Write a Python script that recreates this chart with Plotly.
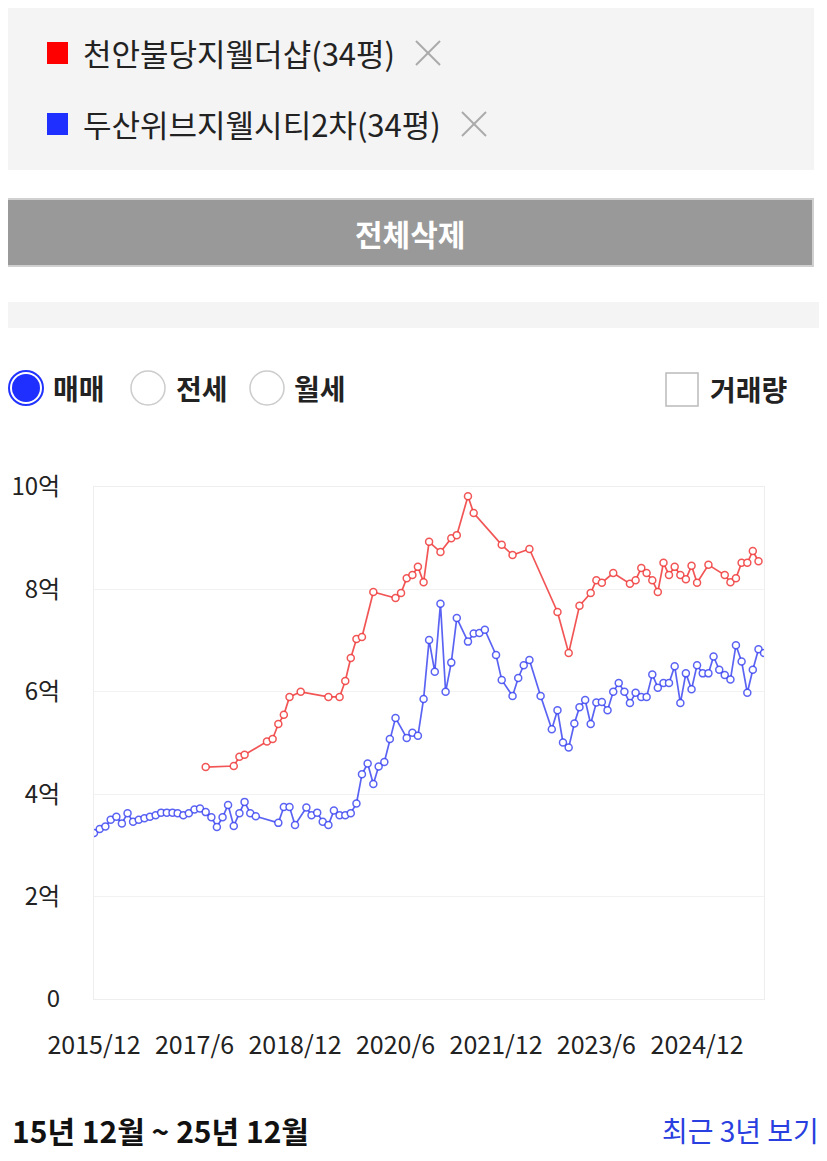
import plotly.graph_objects as go

# page is 827x1161, the body keeps an 8px margin, so the figure is a bit smaller
OFF = 8
W, H = 827 - OFF, 1161 - 2 * OFF

# apartment names shown in the top box
apt_names = ['천안불당지웰더샵(34평)', '두산위브지웰시티2차(34평)']
apt_colors = ['#ff0000', '#1f2fff']

# 천안불당지웰더샵 (억 원)
red_months = ['2017-08', '2018-01', '2018-02', '2018-03', '2018-07', '2018-08', '2018-09', '2018-10',
              '2018-11', '2019-01', '2019-06', '2019-08', '2019-09', '2019-10', '2019-11', '2019-12',
              '2020-02', '2020-06', '2020-07', '2020-08', '2020-09', '2020-10', '2020-11', '2020-12',
              '2021-02', '2021-04', '2021-05', '2021-07', '2021-08', '2022-01', '2022-03', '2022-06',
              '2022-11', '2023-01', '2023-03', '2023-05', '2023-06', '2023-07', '2023-09', '2023-12',
              '2024-01', '2024-02', '2024-03', '2024-04', '2024-05', '2024-06', '2024-07', '2024-08',
              '2024-09', '2024-10', '2024-11', '2024-12', '2025-02', '2025-05', '2025-06', '2025-07',
              '2025-08', '2025-09', '2025-10', '2025-11']
red_values = [4.53, 4.55, 4.73, 4.77, 5.03, 5.08, 5.37, 5.55,
              5.90, 6.00, 5.90, 5.90, 6.21, 6.66, 7.03, 7.07,
              7.95, 7.83, 7.93, 8.22, 8.28, 8.44, 8.14, 8.93,
              8.73, 9.00, 9.06, 9.82, 9.49, 8.87, 8.67, 8.79,
              7.56, 6.76, 7.68, 7.93, 8.18, 8.13, 8.32, 8.11,
              8.18, 8.42, 8.32, 8.18, 7.95, 8.52, 8.28, 8.44,
              8.28, 8.20, 8.46, 8.13, 8.48, 8.28, 8.14, 8.22,
              8.52, 8.52, 8.75, 8.55]

# 두산위브지웰시티2차 (억 원)
blue_months = ['2015-12', '2016-01', '2016-02', '2016-03', '2016-04', '2016-05', '2016-06', '2016-07',
               '2016-08', '2016-09', '2016-10', '2016-11', '2016-12', '2017-01', '2017-02', '2017-03',
               '2017-04', '2017-05', '2017-06', '2017-07', '2017-08', '2017-09', '2017-10', '2017-11',
               '2017-12', '2018-01', '2018-02', '2018-03', '2018-04', '2018-05', '2018-09', '2018-10',
               '2018-11', '2018-12', '2019-02', '2019-03', '2019-04', '2019-05', '2019-06', '2019-07',
               '2019-08', '2019-09', '2019-10', '2019-11', '2019-12', '2020-01', '2020-02', '2020-03',
               '2020-04', '2020-05', '2020-06', '2020-08', '2020-09', '2020-10', '2020-11', '2020-12',
               '2021-01', '2021-02', '2021-03', '2021-04', '2021-05', '2021-07', '2021-08', '2021-09',
               '2021-10', '2021-12', '2022-01', '2022-03', '2022-04', '2022-05', '2022-06', '2022-08',
               '2022-10', '2022-11', '2022-12', '2023-01', '2023-02', '2023-03', '2023-04', '2023-05',
               '2023-06', '2023-07', '2023-08', '2023-09', '2023-10', '2023-11', '2023-12', '2024-01',
               '2024-02', '2024-03', '2024-04', '2024-05', '2024-06', '2024-07', '2024-08', '2024-09',
               '2024-10', '2024-11', '2024-12', '2025-01', '2025-02', '2025-03', '2025-04', '2025-05',
               '2025-06', '2025-07', '2025-08', '2025-09', '2025-10', '2025-11', '2025-12']
blue_values = [3.24, 3.32, 3.37, 3.50, 3.56, 3.43, 3.63, 3.46,
               3.50, 3.53, 3.56, 3.59, 3.64, 3.64, 3.64, 3.63,
               3.59, 3.63, 3.70, 3.72, 3.65, 3.55, 3.36, 3.55,
               3.79, 3.38, 3.63, 3.85, 3.63, 3.57, 3.44, 3.75,
               3.75, 3.40, 3.74, 3.59, 3.64, 3.46, 3.40, 3.68,
               3.59, 3.59, 3.63, 3.82, 4.39, 4.60, 4.20, 4.54,
               4.63, 5.08, 5.49, 5.10, 5.20, 5.14, 5.86, 7.01,
               6.39, 7.72, 6.00, 6.57, 7.44, 6.98, 7.14, 7.15,
               7.21, 6.72, 6.23, 5.92, 6.27, 6.52, 6.62, 5.92,
               5.27, 5.64, 5.01, 4.91, 5.38, 5.70, 5.84, 5.37,
               5.79, 5.80, 5.64, 6.00, 6.17, 6.00, 5.78, 5.98,
               5.90, 5.90, 6.34, 6.08, 6.17, 6.17, 6.50, 5.78,
               6.36, 6.05, 6.52, 6.36, 6.36, 6.69, 6.43, 6.33,
               6.24, 6.91, 6.59, 5.98, 6.43, 6.83, 6.76]

x_tickvals = ['2015-12-01', '2017-06-01', '2018-12-01', '2020-06-01', '2021-12-01', '2023-06-01', '2024-12-01']
x_ticktext = ['2015/12', '2017/6', '2018/12', '2020/6', '2021/12', '2023/6', '2024/12']
y_tickvals = [0, 2, 4, 6, 8, 10]
y_ticktext = ['0', '2억', '4억', '6억', '8억', '10억']

deal_types = ['매매', '전세', '월세']
period_text = '15년 12월 ~ 25년 12월'

FONT = 'Noto Sans CJK KR'


# page pixel -> paper fraction
def px(x):
    return (x - OFF) / W


def py(y):
    return 1 - (y - OFF) / H


def text(x, y, s, size, color='#222222', xanchor='left'):
    return dict(x=px(x), y=py(y), xref='paper', yref='paper', text=s, showarrow=False,
                xanchor=xanchor, yanchor='middle', font=dict(family=FONT, size=size, color=color))


def box(x0, x1, y0, y1, **kw):
    return dict(type='rect', xref='paper', yref='paper', x0=px(x0), x1=px(x1), y0=py(y1), y1=py(y0), **kw)


def circle(cx, cy, r, **kw):
    return dict(type='circle', xref='paper', yref='paper', x0=px(cx - r), x1=px(cx + r),
                y0=py(cy + r), y1=py(cy - r), **kw)


fig = go.Figure()

fig.add_trace(go.Scatter(
    x=[m + '-01' for m in red_months], y=red_values, mode='lines+markers',
    line=dict(color='rgba(240,55,55,0.85)', width=1.7),
    marker=dict(size=7, color='white', line=dict(color='rgba(240,55,55,0.85)', width=1.5)),
    name=apt_names[0], showlegend=False))

fig.add_trace(go.Scatter(
    x=[m + '-01' for m in blue_months], y=blue_values, mode='lines+markers',
    line=dict(color='rgba(50,60,240,0.8)', width=1.7),
    marker=dict(size=7, color='white', line=dict(color='rgba(50,60,240,0.8)', width=1.5)),
    name=apt_names[1], showlegend=False))

shapes = []
annotations = []

# selected apartments box
shapes.append(box(6, 814, 4, 170, fillcolor='#f4f4f4', line=dict(width=0), layer='below'))
for i, (name, col) in enumerate(zip(apt_names, apt_colors)):
    cy = 53 + i * 71
    shapes.append(box(47, 68, cy - 11, cy + 11, fillcolor=col, line=dict(width=0)))
    annotations.append(text(81, cy, name, 31))
    xc = 428 if i == 0 else 474
    for a, b in [(-12, 12), (12, -12)]:
        shapes.append(dict(type='line', xref='paper', yref='paper', x0=px(xc - 12), x1=px(xc + 12),
                           y0=py(cy + a), y1=py(cy + b), line=dict(color='#aaaaaa', width=2)))

# delete-all button
shapes.append(box(7, 813, 199, 266, fillcolor='#999999', line=dict(color='#d0d0d0', width=2)))
annotations.append(text(410, 233, '<b>전체삭제</b>', 30, color='white', xanchor='center'))

# separator strip
shapes.append(box(0, 827, 302, 328, fillcolor='#f4f4f4', line=dict(width=0), layer='below'))

# radio buttons
radio_x = [26, 148, 267]
text_x = [51, 174, 292]
for i, (rx, tx, lab) in enumerate(zip(radio_x, text_x, deal_types)):
    if i == 0:
        shapes.append(circle(rx, 388, 17, fillcolor='white', line=dict(color='#2233ff', width=2)))
        shapes.append(circle(rx, 388, 14, fillcolor='#1f2fff', line=dict(width=0)))
    else:
        shapes.append(circle(rx, 388, 17, fillcolor='white', line=dict(color='#cccccc', width=1.5)))
    annotations.append(text(tx, 388, '<b>' + lab + '</b>', 28))

# volume checkbox
shapes.append(box(666, 698, 373, 406, fillcolor='white', line=dict(color='#bbbbbb', width=1.5)))
annotations.append(text(708, 389, '<b>거래량</b>', 28))

# bottom row
annotations.append(text(10, 1130, '<b>' + period_text + '</b>', 30, color='#111111'))
annotations.append(text(821, 1130, '최근 3년 보기', 28, color='#2a3fe0', xanchor='right'))

fig.update_layout(
    width=W, height=H,
    margin=dict(l=0, r=0, t=0, b=0, autoexpand=False),
    paper_bgcolor='white', plot_bgcolor='white',
    showlegend=False,
    shapes=shapes, annotations=annotations,
    xaxis=dict(domain=[px(94), px(764)], type='date', range=['2015-12-01', '2025-12-01'],
               tickvals=x_tickvals, ticktext=x_ticktext, tickangle=0, automargin=False,
               ticks='outside', ticklen=24, tickcolor='rgba(0,0,0,0)',
               showgrid=False, showline=True, mirror=True, linecolor='#eeeeee', linewidth=1,
               tickfont=dict(family=FONT, size=25, color='#222222'), fixedrange=True),
    yaxis=dict(domain=[py(999), py(487)], range=[0, 10], automargin=False,
               tickvals=y_tickvals, ticktext=y_ticktext,
               ticks='outside', ticklen=28, tickcolor='rgba(0,0,0,0)',
               showgrid=True, gridcolor='#f2f2f2', zeroline=False,
               showline=True, mirror=True, linecolor='#eeeeee', linewidth=1,
               tickfont=dict(family=FONT, size=24, color='#222222'), fixedrange=True),
)

fig.write_html("out.html", config={'displayModeBar': False})
